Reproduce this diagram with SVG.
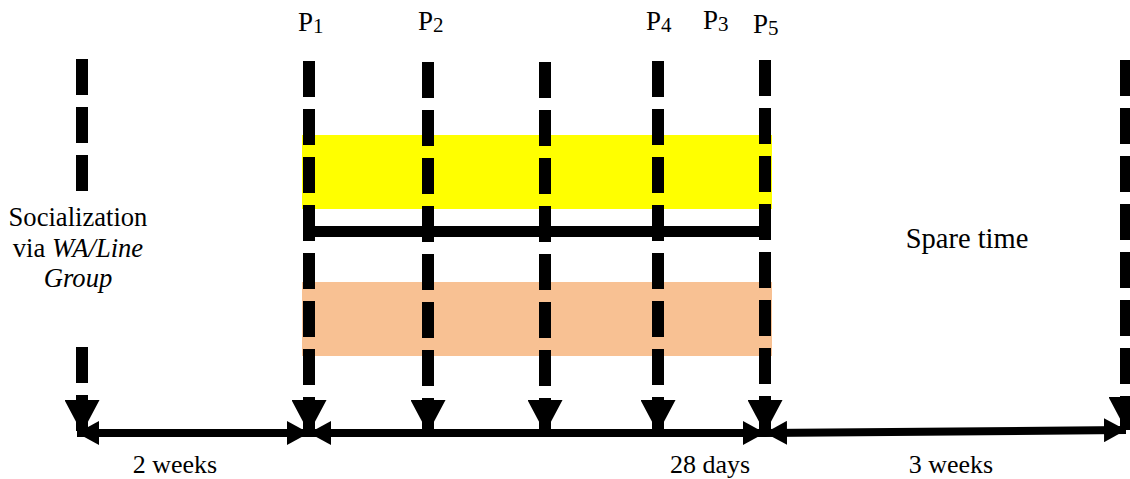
<svg xmlns="http://www.w3.org/2000/svg" width="1130" height="479" viewBox="0 0 1130 479">
<style>
text{font-family:'Liberation Serif','DejaVu Serif',serif;fill:#000}
.t{font-size:26px}
.s{font-size:26.6px}
.p{font-size:27px}
.sub{font-size:21px}
.dash{stroke:#000;stroke-width:12;stroke-dasharray:36 12;fill:none;marker-end:url(#down)}
.nodash{stroke:#000;stroke-width:12;stroke-dasharray:36 12;fill:none}
.axis{stroke:#000;stroke-width:8;fill:none;marker-start:url(#hh);marker-end:url(#hh)}
</style>
<defs>
<marker id="down" markerUnits="userSpaceOnUse" viewBox="0 0 33 35" markerWidth="33" markerHeight="35" refX="33" refY="17.5" orient="auto">
<path d="M0,0 L33,17.5 L0,35 z" fill="#000"/>
</marker>
<marker id="hh" markerUnits="userSpaceOnUse" viewBox="0 0 22 24" markerWidth="22" markerHeight="24" refX="22" refY="12" orient="auto-start-reverse">
<path d="M0,0 L22,12 L0,24 z" fill="#000"/>
</marker>
</defs>
<rect width="1130" height="479" fill="#fff"/>
<g id="yellow-band"><rect x="302" y="135" width="470" height="74" fill="#ffff00"/></g>
<g id="orange-band"><rect x="302" y="282" width="470" height="74" fill="#f8c193"/></g>
<g id="connectors">
<path class="nodash" d="M82,59 V192"/>
<path class="dash" d="M82,347 V433"/>
<path class="dash" d="M309,61 V433"/>
<path class="dash" d="M428,62 V433"/>
<path class="dash" d="M545,62 V433"/>
<path class="dash" d="M658,61 V433"/>
<path class="dash" d="M765,60 V433"/>
<path class="dash" d="M1126,60 V430"/>
<rect x="303" y="226" width="468" height="11" fill="#000"/>
<line class="axis" x1="77" y1="433" x2="309" y2="433"/>
<line class="axis" x1="309" y1="433" x2="765" y2="433"/>
<line class="axis" x1="765" y1="433" x2="1126" y2="430"/>
</g>
<g id="label-p1"><text class="p" x="298" y="31">P<tspan class="sub" dy="2">1</tspan></text></g>
<g id="label-p2"><text class="p" x="418" y="30">P<tspan class="sub" dy="2">2</tspan></text></g>
<g id="label-p4"><text class="p" x="646" y="30">P<tspan class="sub" dy="2">4</tspan></text></g>
<g id="label-p3"><text class="p" x="703" y="29">P<tspan class="sub" dy="2">3</tspan></text></g>
<g id="label-p5"><text class="p" x="753" y="33">P<tspan class="sub" dy="2">5</tspan></text></g>
<g id="socialization">
<text class="s" x="78" y="226" text-anchor="middle">Socialization</text>
<text class="s" x="78" y="257" text-anchor="middle">via <tspan font-style="italic">WA/Line</tspan></text>
<text class="s" x="78" y="287" text-anchor="middle" font-style="italic">Group</text>
</g>
<g id="spare-time"><text x="967" y="248" text-anchor="middle" font-size="28.5px">Spare time</text></g>
<g id="label-2weeks"><text class="t" x="175" y="473" text-anchor="middle">2 weeks</text></g>
<g id="label-28days"><text class="t" x="710" y="473" text-anchor="middle">28 days</text></g>
<g id="label-3weeks"><text class="t" x="951" y="473" text-anchor="middle">3 weeks</text></g>
</svg>
